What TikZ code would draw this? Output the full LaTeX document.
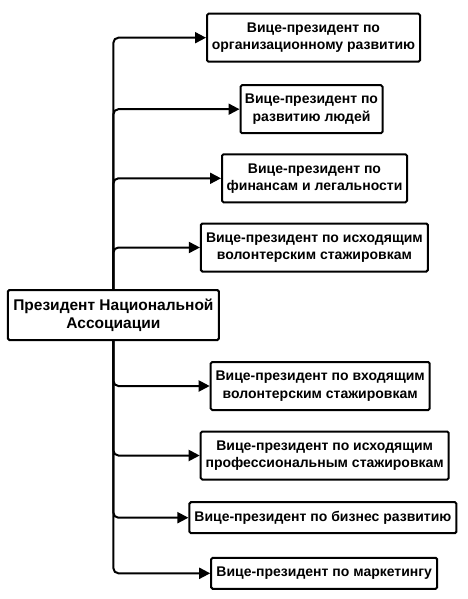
\documentclass[tikz,border=0pt]{standalone}
\usepackage{fontspec}
\setmainfont{Liberation Sans}
\usetikzlibrary{arrows.meta}

\begin{document}
\begin{tikzpicture}[x=1pt, y=-1pt,
        box/.style={draw=black, line width=2pt, rounded corners=1.5pt, align=center, inner sep=2pt,
            font=\fontsize{14}{17.3}\selectfont\bfseries},
        link/.style={line width=2pt, rounded corners=5pt, -{Triangle[length=11pt, width=11pt]}}]
        \useasboundingbox (0, 0) rectangle (467, 599);

        \node (0) at (113.4, 315)[box, minimum width=211pt, minimum height=50pt, font=\fontsize{15.5}{17.7}\selectfont\bfseries] {Президент Национальной\\Ассоциации};

        \node (1) at (313.5, 37.7)[box, minimum width=213pt, minimum height=48pt] {Вице-президент по\\организационному развитию};
        \node (2) at (311.5, 109.2)[box, minimum width=142pt, minimum height=48pt] {Вице-президент по\\развитию людей};
        \node (3) at (314.5, 178.3)[box, minimum width=185pt, minimum height=48pt] {Вице-президент по\\финансам и легальности};
        \node (4) at (314.4, 247.5)[box, minimum width=227pt, minimum height=48pt] {Вице-президент по исходящим\\волонтерским стажировкам};

        \node (5) at (320.2, 386)[box, minimum width=219pt, minimum height=48pt] {Вице-президент по входящим\\волонтерским стажировкам};
        \node (6) at (324.7, 455.5)[box, minimum width=248pt, minimum height=48pt] {Вице-президент по исходящим\\профессиональным стажировкам};
        \node (7) at (322.9, 517.7)[box, minimum width=267pt, minimum height=31pt] {Вице-президент по бизнес развитию};
        \node (8) at (324.2, 573.3)[box, minimum width=226pt, minimum height=31pt] {Вице-президент по маркетингу};

        \draw[link] (0.north) |- (1.west);
        \draw[link] (0.north) |- (2.west);
        \draw[link] (0.north) |- (3.west);
        \draw[link] (0.north) |- (4.west);

        \draw[link] (0.south) |- (5.west);
        \draw[link] (0.south) |- (6.west);
        \draw[link] (0.south) |- (7.west);
        \draw[link] (0.south) |- (8.west);
    \end{tikzpicture}
\end{document}
